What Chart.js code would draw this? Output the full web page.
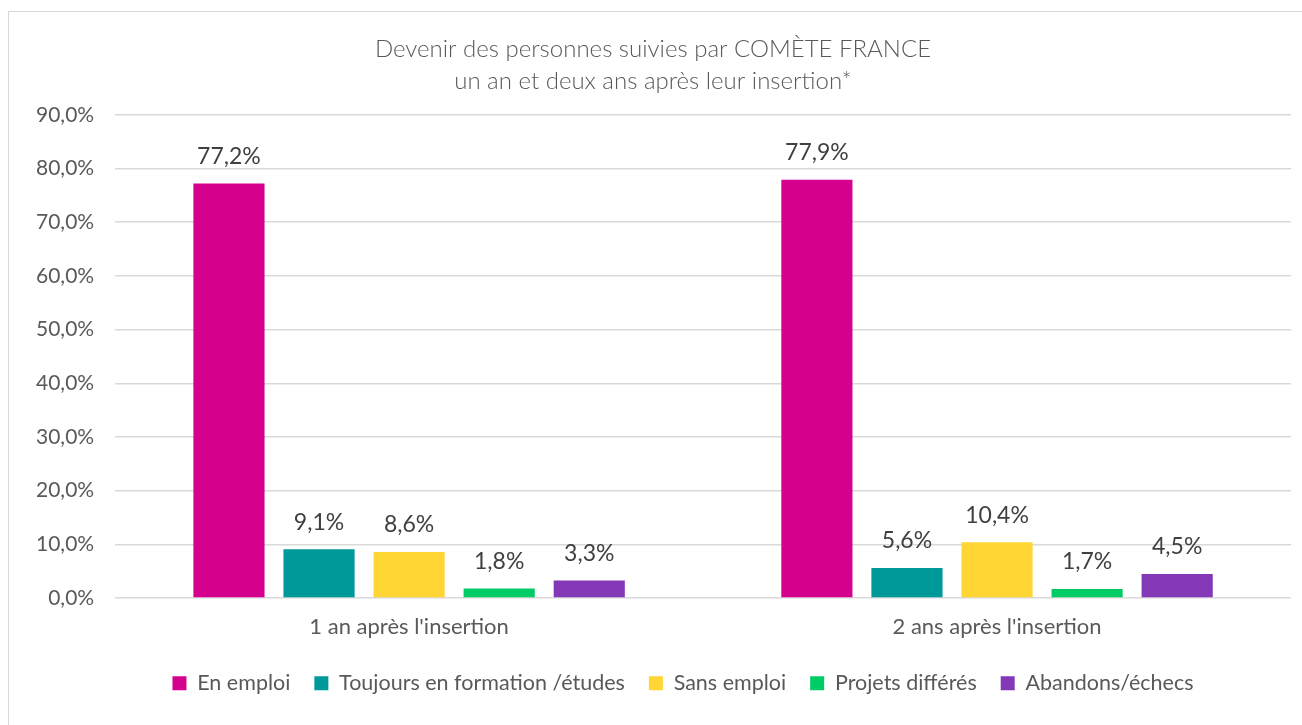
<!DOCTYPE html>
<html>
<head>
<meta charset="utf-8">
<script src="https://cdn.jsdelivr.net/npm/chart.js@4"></script>
<style>
  body { margin: 0; overflow: hidden; background: #fff; }
  #wrap { position: relative; width: 1302px; height: 725px; }
  #frame { position: absolute; left: 8px; top: 11px; width: 1320px; height: 740px; border: 1.5px solid #d9d9d9; }
  canvas { position: absolute; left: 0; top: 0; }
</style>
</head>
<body>
<div id="wrap">
  <div id="frame"></div>
  <canvas id="outcomeChart" width="1302" height="725"></canvas>
</div>
<script>
// data
const categories = ["1 an après l'insertion", "2 ans après l'insertion"];
const seriesNames = ['En emploi', 'Toujours en formation /études', 'Sans emploi', 'Projets différés', 'Abandons/échecs'];
const enEmploi = [77.2, 77.9];
const enFormation = [9.1, 5.6];
const sansEmploi = [8.6, 10.4];
const projetsDifferes = [1.8, 1.7];
const abandons = [3.3, 4.5];
const yTicks = [0, 10, 20, 30, 40, 50, 60, 70, 80, 90];

const colors = ['#D6008F', '#009999', '#FFD633', '#00CC66', '#8338B8'];
const font = "Lato, 'Liberation Sans', sans-serif";

function fmt(v, digits) {
    return v.toFixed(digits).replace('.', ',') + '%';
}

// draw the value above each bar
const barLabels = {
    id: 'barLabels',
    afterDatasetsDraw(chart) {
        const ctx = chart.ctx;
        ctx.save();
        ctx.font = '23px ' + font;
        ctx.fillStyle = '#404040';
        ctx.textAlign = 'center';
        ctx.textBaseline = 'middle';
        chart.data.datasets.forEach((ds, i) => {
            chart.getDatasetMeta(i).data.forEach((bar, j) => {
                ctx.fillText(fmt(ds.data[j], 1), bar.x, bar.y - 27);
            });
        });
        ctx.restore();
    }
};

// legend sits a bit right of centre in the original
const legendShift = {
    id: 'legendShift',
    afterLayout(chart) {
        chart.legend.left += 30;
        chart.legend.right += 30;
    }
};

const seriesData = [enEmploi, enFormation, sansEmploi, projetsDifferes, abandons];

new Chart(document.getElementById('outcomeChart'), {
    type: 'bar',
    data: {
        labels: categories,
        datasets: seriesNames.map((name, i) => ({
            label: name,
            data: seriesData[i],
            backgroundColor: colors[i],
            barPercentage: 0.79,
            categoryPercentage: 0.766
        }))
    },
    options: {
        responsive: false,
        animation: false,
        layout: { padding: { left: 15, right: 11, top: 20, bottom: 21 } },
        plugins: {
            title: {
                display: true,
                text: ['Devenir des personnes suivies par COMÈTE FRANCE', 'un an et deux ans après leur insertion*'],
                color: '#595959',
                font: { family: font, size: 24, weight: '300', lineHeight: 1.33 },
                padding: { top: 13, bottom: 18 }
            },
            legend: {
                position: 'bottom',
                labels: {
                    color: '#595959',
                    font: { family: font, size: 21.5 },
                    boxWidth: 14,
                    boxHeight: 14,
                    padding: 24
                }
            },
            tooltip: { enabled: false }
        },
        scales: {
            x: {
                grid: { display: false },
                border: { display: false },
                ticks: { color: '#595959', font: { family: font, size: 22 }, padding: 8 }
            },
            y: {
                min: 0,
                max: 90,
                afterBuildTicks(axis) { axis.ticks = yTicks.map(v => ({ value: v })); },
                grid: { color: '#d9d9d9', lineWidth: 1.5, drawTicks: false },
                border: { display: false },
                ticks: {
                    color: '#595959',
                    font: { family: font, size: 21 },
                    padding: 21,
                    callback: v => fmt(v, 1)
                }
            }
        }
    },
    plugins: [barLabels, legendShift]
});
</script>
</body>
</html>
